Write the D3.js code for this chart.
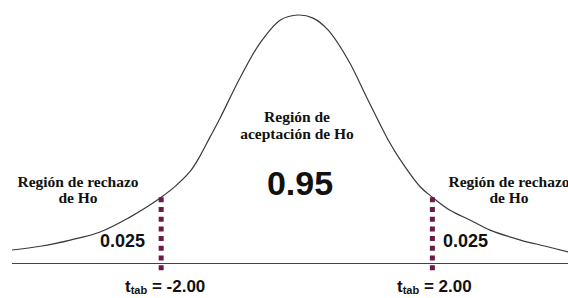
<!DOCTYPE html>
<meta charset="utf-8">
<style>

body {
  margin: 0;
  background: #fff;
}

.curve {
  fill: none;
  stroke: #3a3a3a;
  stroke-width: 1.2px;
}

.axis-line {
  stroke: #444;
  stroke-width: 1px;
}

.crit {
  stroke: #6b1b45;
  stroke-width: 5px;
  stroke-dasharray: 5,4.7;
}

text.serif {
  font-family: "Liberation Serif", "DejaVu Serif", "Times New Roman", serif;
  font-weight: bold;
  font-size: 15.5px;
  fill: #111;
}

text.sans {
  font-family: "Liberation Sans", Arial, sans-serif;
  font-weight: bold;
  fill: #111;
}

</style>
<svg></svg>
<script src="https://cdn.jsdelivr.net/npm/d3@7"></script>
<script>

var width = 568,
    height = 298;

// curve: t value and relative density
var tValues = [-4.2, -3.78, -3.34, -2.9, -2.46, -2.23, -2.0, -1.79, -1.57, -1.42, -1.28, -1.13, -0.83, -0.54, -0.24, 0.02,
               0.24, 0.46, 0.76, 1.05, 1.35, 1.53, 1.82, 2.0, 2.26, 2.56, 2.85, 3.3, 3.67, 4.0];
var density = [0.021, 0.027, 0.037, 0.05, 0.074, 0.089, 0.106, 0.124, 0.148, 0.174, 0.203, 0.234, 0.3, 0.355, 0.392, 0.4,
               0.395, 0.376, 0.327, 0.263, 0.198, 0.166, 0.123, 0.106, 0.085, 0.069, 0.053, 0.037, 0.027, 0.018];

var critical = [-2.0, 2.0],
    critLabels = ["-2.00", "2.00"],
    tailArea = "0.025",
    centerArea = "0.95";

var x = d3.scaleLinear()
    .domain([-4.2, 4.0])
    .range([12, 568]);

var y = d3.scaleLinear()
    .domain([0, 0.4])
    .range([263, 15]);

var svg = d3.select("svg")
    .attr("width", width)
    .attr("height", height);

var line = d3.line()
    .x(function(d) { return x(d[0]); })
    .y(function(d) { return y(d[1]); })
    .curve(d3.curveCatmullRom.alpha(0.5));

svg.append("line")
    .attr("class", "axis-line")
    .attr("x1", x(-4.2))
    .attr("x2", x(4.0))
    .attr("y1", y(0) + 0.5)
    .attr("y2", y(0) + 0.5);

svg.append("path")
    .attr("class", "curve")
    .attr("d", line(d3.zip(tValues, density)));

var critDensity = 0.106;

svg.selectAll(".crit")
    .data(critical)
  .enter().append("line")
    .attr("class", "crit")
    .attr("x1", function(d) { return x(d); })
    .attr("x2", function(d) { return x(d); })
    .attr("y1", y(critDensity))
    .attr("y2", y(0) + 8);

// region labels (serif, like Times bold in the original)
function serifText(cx, lines) {
  var t = svg.append("text")
      .attr("class", "serif")
      .attr("text-anchor", "middle");
  lines.forEach(function(l) {
    t.append("tspan").attr("x", cx).attr("y", l[0]).text(l[1]);
  });
}

serifText(78, [[187, "Región de rechazo"], [203, "de Ho"]]);
serifText(509, [[187, "Región de rechazo"], [203, "de Ho"]]);
serifText(297, [[122, "Región de"], [139, "aceptación de Ho"]]);

svg.append("text")
    .attr("class", "sans")
    .attr("x", 300)
    .attr("y", 195)
    .attr("text-anchor", "middle")
    .style("font-size", "34px")
    .text(centerArea);

svg.append("text")
    .attr("class", "sans")
    .attr("x", 145)
    .attr("y", 247)
    .attr("text-anchor", "end")
    .style("font-size", "18px")
    .text(tailArea);

svg.append("text")
    .attr("class", "sans")
    .attr("x", 443)
    .attr("y", 247)
    .style("font-size", "18px")
    .text(tailArea);

// t_tab labels under the critical lines
svg.selectAll(".tlab")
    .data(critical)
  .enter().append("text")
    .attr("class", "sans tlab")
    .attr("x", function(d, i) { return i ? 397 : 125; })
    .attr("y", 292)
    .style("font-size", "17px")
    .each(function(d, i) {
      var t = d3.select(this);
      t.append("tspan").text("t");
      t.append("tspan").style("font-size", "11px").attr("dy", 2).text("tab");
      t.append("tspan").attr("dy", -2).text(" = " + critLabels[i]);
    });

</script>
